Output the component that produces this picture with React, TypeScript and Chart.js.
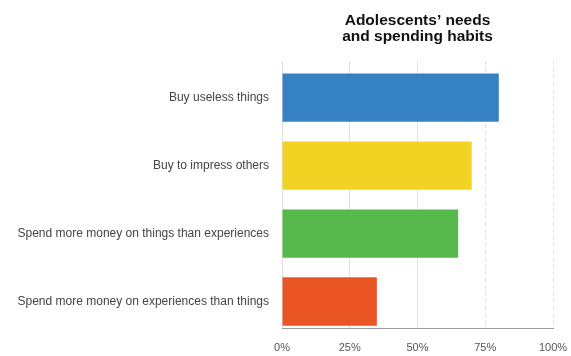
import React, { useEffect, useRef } from "react";
import { Chart, registerables } from "chart.js";

Chart.register(...registerables);

const categories = [
  "Buy useless things",
  "Buy to impress others",
  "Spend more money on things than experiences",
  "Spend more money on experiences than things",
];
const values = [80, 70, 65, 35];
const barColors = ["#3680c4", "#f2d324", "#57b94b", "#eb5425"];
const xTickValues = [0, 25, 50, 75, 100];
const titleLines = ["Adolescents\u2019 needs", "and spending habits"];

const FONT = '"Liberation Sans", Arial, Helvetica, sans-serif';

const titlePlugin = {
  id: "centeredTitle",
  afterDraw(chart: any) {
    const { ctx, chartArea } = chart;
    ctx.save();
    ctx.font = `bold 15.5px ${FONT}`;
    ctx.fillStyle = "#111";
    ctx.textAlign = "center";
    ctx.textBaseline = "middle";
    const cx = (chartArea.left + chartArea.right) / 2;
    titleLines.forEach((t, i) => ctx.fillText(t, cx, 20.5 + i * 16.5));
    ctx.restore();
  },
};

export default function App() {
  const ref = useRef<HTMLCanvasElement | null>(null);

  useEffect(() => {
    if (!ref.current) return;
    const chart = new Chart(ref.current, {
      type: "bar",
      data: {
        datasets: [
          {
            data: values.map((v, i) => ({ x: v, y: i })),
            backgroundColor: barColors,
            borderWidth: 0,
            categoryPercentage: 0.8,
            barPercentage: 0.89,
          },
        ],
      },
      options: {
        indexAxis: "y",
        responsive: false,
        animation: false,
        layout: { padding: { top: 61, right: 18, bottom: 0, left: 0 } },
        plugins: {
          legend: { display: false },
          tooltip: { enabled: false },
          title: { display: false },
        },
        scales: {
          x: {
            type: "linear",
            position: "bottom",
            min: 0,
            max: 100,
            afterBuildTicks: (axis: any) => {
              axis.ticks = xTickValues.map((v) => ({ value: v }));
            },
            ticks: {
              callback: (v: any) => v + "%",
              font: { family: FONT, size: 11 },
              color: "#555",
              padding: 13,
              maxRotation: 0,
              autoSkip: false,
            },
            grid: { color: "#e2e2e2", drawTicks: false, lineWidth: 1 },
            border: {
              display: true,
              color: "#9a9a9a",
              width: 1,
              dash: (ctx: any) => (ctx.tick && ctx.tick.value >= 75 ? [4, 3] : []),
            },
            afterFit: (axis: any) => {
              axis.height = 28;
              axis.paddingLeft = 0;
              axis.paddingRight = 0;
            },
          },
          y: {
            type: "linear",
            reverse: true,
            offset: false,
            min: -0.54,
            max: 3.39,
            afterBuildTicks: (axis: any) => {
              axis.ticks = categories.map((_, i) => ({ value: i }));
            },
            ticks: {
              callback: (v: any) => categories[v] ?? "",
              font: { family: FONT, size: 12 },
              color: "#444",
              padding: 13,
              autoSkip: false,
            },
            grid: { display: false, drawTicks: false },
            border: { display: false },
            afterFit: (axis: any) => {
              axis.width = 282;
              axis.paddingTop = 0;
              axis.paddingBottom = 0;
            },
          },
        },
      },
      plugins: [titlePlugin],
    } as any);
    return () => chart.destroy();
  }, []);

  return (
    <div
      style={{
        position: "fixed",
        left: 0,
        top: 0,
        width: 571,
        height: 356,
        background: "#fff",
      }}
    >
      <canvas ref={ref} width={571} height={356} style={{ display: "block" }} />
    </div>
  );
}
